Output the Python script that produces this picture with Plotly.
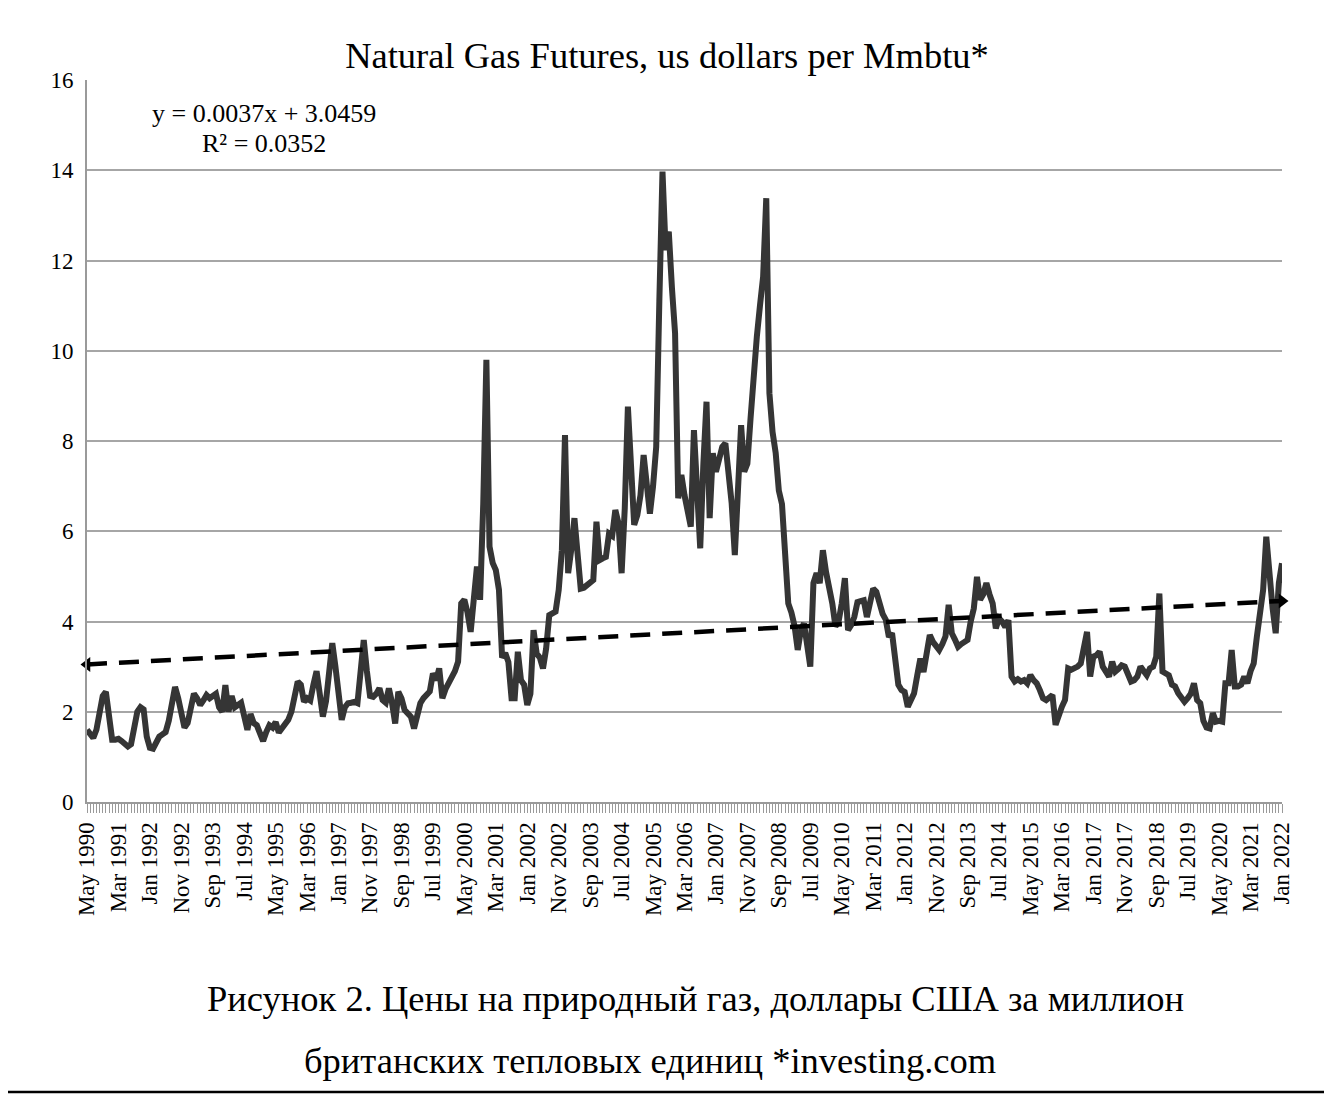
import plotly.graph_objects as go

# Monthly natural gas futures prices, May 1990 .. Jan 2022 (USD per MMBtu)
prices = [
    1.60, 1.50, 1.42, 1.60, 2.00, 2.35, 2.44, 1.90, 1.38, 1.38,   # 0-9
    1.40, 1.35, 1.30, 1.23, 1.28, 1.60, 2.00, 2.10, 2.05, 1.45,   # 10-19
    1.20, 1.18, 1.30, 1.45, 1.50, 1.55, 1.80, 2.20, 2.55, 2.30,   # 20-29
    1.90, 1.65, 1.75, 2.05, 2.40, 2.30, 2.15, 2.25, 2.37, 2.30,   # 30-39
    2.35, 2.40, 2.10, 2.00, 2.59, 2.00, 2.35, 2.10, 2.15, 2.20,   # 40-49
    1.90, 1.60, 1.95, 1.75, 1.70, 1.50, 1.35, 1.55, 1.70, 1.65,   # 50-59
    1.77, 1.54, 1.65, 1.75, 1.82, 2.00, 2.30, 2.67, 2.60, 2.22,   # 60-69
    2.30, 2.25, 2.60, 2.90, 2.40, 1.89, 2.23, 2.90, 3.52, 3.00,   # 70-79
    2.30, 1.82, 2.10, 2.19, 2.20, 2.22, 2.19, 2.90, 3.59, 2.90,   # 80-89
    2.35, 2.33, 2.40, 2.52, 2.26, 2.20, 2.52, 2.20, 1.74, 2.44,   # 90-99
    2.30, 2.04, 1.95, 1.89, 1.63, 1.90, 2.19, 2.30, 2.37, 2.45,   # 100-109
    2.85, 2.70, 2.96, 2.30, 2.50, 2.63, 2.75, 2.90, 3.11, 4.40,   # 110-119
    4.48, 4.20, 3.77, 4.70, 5.22, 4.48, 6.60, 9.80, 5.66, 5.30,   # 120-129
    5.14, 4.70, 3.20, 3.30, 3.10, 2.30, 2.30, 3.33, 2.70, 2.60,   # 130-139
    2.15, 2.40, 3.81, 3.29, 3.20, 2.96, 3.40, 4.14, 4.20, 4.22,   # 140-149
    4.70, 5.58, 8.13, 5.07, 5.60, 6.29, 5.50, 4.73, 4.75, 4.81,   # 150-159
    4.85, 4.92, 6.21, 5.36, 5.40, 5.43, 5.95, 5.90, 6.47, 6.18,   # 160-169
    5.07, 6.50, 8.76, 7.40, 6.14, 6.36, 6.80, 7.69, 6.90, 6.39,   # 170-179
    7.00, 7.87, 11.10, 13.97, 12.23, 12.64, 11.40, 10.39, 6.73, 7.25,  # 180-189
    6.80, 6.47, 6.10, 8.24, 6.80, 5.62, 7.50, 8.87, 6.29, 7.73,   # 190-199
    7.32, 7.60, 7.87, 7.95, 7.20, 6.62, 5.47, 7.00, 8.35, 7.32,   # 200-209
    7.50, 8.50, 9.57, 10.31, 11.00, 11.64, 13.38, 9.06, 8.20, 7.73,  # 210-219
    6.90, 6.60, 5.50, 4.40, 4.20, 3.90, 3.37, 3.80, 3.96, 3.50,   # 220-229
    3.00, 4.85, 5.07, 4.85, 5.58, 5.10, 4.80, 4.40, 3.89, 4.00,   # 230-239
    4.40, 4.96, 3.81, 3.92, 4.10, 4.43, 4.45, 4.47, 4.10, 4.40,   # 240-249
    4.73, 4.66, 4.40, 4.17, 4.04, 3.66, 3.74, 3.10, 2.60, 2.48,   # 250-259
    2.44, 2.11, 2.30, 2.41, 2.80, 3.18, 2.88, 3.37, 3.70, 3.55,   # 260-269
    3.48, 3.37, 3.50, 3.67, 4.37, 3.74, 3.60, 3.44, 3.50, 3.55,   # 270-279
    3.59, 4.00, 4.29, 4.99, 4.48, 4.60, 4.85, 4.60, 4.40, 3.85,   # 280-289
    4.07, 4.00, 3.88, 4.03, 2.78, 2.67, 2.72, 2.67, 2.70, 2.63,   # 290-299
    2.81, 2.70, 2.63, 2.48, 2.30, 2.26, 2.30, 2.37, 1.71, 1.95,   # 300-309
    2.11, 2.26, 2.96, 2.93, 2.96, 3.00, 3.07, 3.40, 3.77, 2.78,   # 310-319
    3.22, 3.25, 3.33, 3.00, 2.90, 2.78, 3.11, 2.89, 2.95, 3.03,   # 320-329
    3.00, 2.85, 2.67, 2.70, 2.78, 3.00, 2.90, 2.81, 2.96, 3.00,   # 330-339
    3.22, 4.62, 2.89, 2.85, 2.81, 2.60, 2.56, 2.41, 2.30, 2.22,   # 340-349
    2.30, 2.40, 2.63, 2.26, 2.19, 1.80, 1.65, 1.63, 1.97, 1.78,   # 350-359
    1.80, 1.78, 2.63, 2.63, 3.37, 2.56, 2.56, 2.60, 2.78, 2.63,   # 360-369
    2.90, 3.07, 3.66, 4.11, 4.70, 5.88, 4.99, 4.30, 3.74, 4.85,   # 370-379
    5.29,                                                         # 380
]

tick_labels = [
    "May 1990", "Mar 1991", "Jan 1992", "Nov 1992", "Sep 1993", "Jul 1994",
    "May 1995", "Mar 1996", "Jan 1997", "Nov 1997", "Sep 1998", "Jul 1999",
    "May 2000", "Mar 2001", "Jan 2002", "Nov 2002", "Sep 2003", "Jul 2004",
    "May 2005", "Mar 2006", "Jan 2007", "Nov 2007", "Sep 2008", "Jul 2009",
    "May 2010", "Mar 2011", "Jan 2012", "Nov 2012", "Sep 2013", "Jul 2014",
    "May 2015", "Mar 2016", "Jan 2017", "Nov 2017", "Sep 2018", "Jul 2019",
    "May 2020", "Mar 2021", "Jan 2022",
]
label_step = 10  # months between labelled ticks

trend_slope = 0.0037
trend_intercept = 3.0459
r_squared = 0.0352

title_text = "Natural Gas Futures, us dollars per Mmbtu*"
caption_line1 = "Рисунок 2. Цены на природный газ, доллары США за миллион"
caption_line2 = "британских тепловых единиц *investing.com"

n = len(prices)
x_idx = list(range(n))
tickvals = [i * label_step for i in range(len(tick_labels))]

SERIF = "Liberation Serif, Times New Roman, serif"
OFF = 8                      # page body margin of the html page
W, H = 1332 - OFF, 1095 - OFF
# target positions in screenshot pixels
PLOT_L, PLOT_R, PLOT_T, PLOT_B = 87, 1282, 80, 802
L = PLOT_L - OFF
T = PLOT_T - OFF
R = W - (PLOT_R - OFF)
B = H - (PLOT_B - OFF)
plot_h = PLOT_B - PLOT_T
plot_w = PLOT_R - PLOT_L


def py(pix):
    return (PLOT_B - pix) / plot_h


def px(pix):
    return (pix - PLOT_L) / plot_w


fig = go.Figure()

fig.add_trace(go.Scatter(
    x=x_idx, y=prices, mode="lines",
    line=dict(color="#353535", width=6),
    showlegend=False, hoverinfo="x+y",
))

trend_x = [x_idx[0], x_idx[-1]]
trend_y = [trend_slope * (x + 1) + trend_intercept for x in trend_x]
fig.add_trace(go.Scatter(
    x=trend_x, y=trend_y, mode="lines+markers",
    line=dict(color="black", width=4.5, dash="20px,12px"),
    marker=dict(symbol=["triangle-left", "triangle-right"], size=13, color="black"),
    showlegend=False, cliponaxis=False,
))

fig.update_layout(
    width=W, height=H,
    margin=dict(l=L, r=R, t=T, b=B, autoexpand=False),
    paper_bgcolor="white", plot_bgcolor="white",
    font=dict(family=SERIF, color="black"),
    title=dict(text=title_text, x=px(667), xref="paper", xanchor="center",
               y=1 - (55 - OFF) / H, yanchor="middle", yref="container",
               font=dict(family=SERIF, size=36.5, color="black")),
    xaxis=dict(
        range=[0, n - 1], tickmode="array", tickvals=tickvals, ticktext=tick_labels,
        tickangle=-90, tickfont=dict(family=SERIF, size=23, color="black"),
        ticks="outside", ticklen=9, tickcolor="#9a9a9a", tickwidth=1,
        minor=dict(ticks="outside", dtick=1, tick0=0, ticklen=9,
                   tickcolor="#9a9a9a", tickwidth=1, showgrid=False),
        showgrid=False, zeroline=False, automargin=False,
        showline=True, linecolor="#9a9a9a", linewidth=2,
    ),
    yaxis=dict(
        range=[0, 16], dtick=2, tick0=0,
        tickfont=dict(family=SERIF, size=23, color="black"),
        showgrid=True, gridcolor="#a6a6a6", gridwidth=2, automargin=False,
        zeroline=False, showline=True, linecolor="#9a9a9a", linewidth=2,
        ticks="", ticklabelstandoff=7,
    ),
)

eq_text = f"y = {trend_slope:.4f}x + {trend_intercept:.4f}"
r2_text = f"R² = {r_squared:.4f}"
fig.add_annotation(text=eq_text, xref="paper", yref="paper", x=px(264), y=py(113),
                   showarrow=False, font=dict(family=SERIF, size=26, color="black"),
                   xanchor="center", yanchor="middle")
fig.add_annotation(text=r2_text, xref="paper", yref="paper", x=px(264), y=py(143),
                   showarrow=False, font=dict(family=SERIF, size=26, color="black"),
                   xanchor="center", yanchor="middle")
fig.add_annotation(text=caption_line1, xref="paper", yref="paper", x=px(695), y=py(998),
                   showarrow=False, font=dict(family=SERIF, size=36.5, color="black"),
                   xanchor="center", yanchor="middle")
fig.add_annotation(text=caption_line2, xref="paper", yref="paper", x=px(650), y=py(1060),
                   showarrow=False, font=dict(family=SERIF, size=36.5, color="black"),
                   xanchor="center", yanchor="middle")

fig.add_shape(type="line", xref="paper", yref="paper",
              x0=px(0), x1=px(1340), y0=py(1092), y1=py(1092),
              line=dict(color="black", width=2.5))

fig.write_html("out.html")
